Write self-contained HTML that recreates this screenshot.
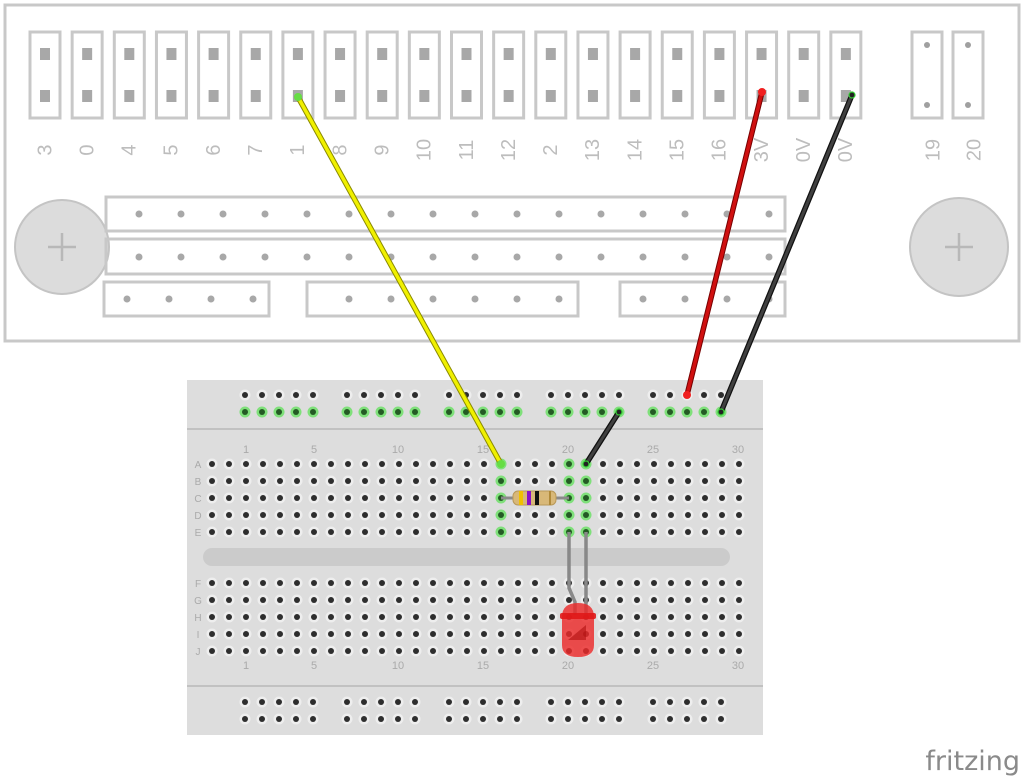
<!DOCTYPE html>
<html><head><meta charset="utf-8"><style>
html,body{margin:0;padding:0;background:#fff;width:1024px;height:780px;overflow:hidden}
svg{display:block}
text{font-family:"Liberation Sans",sans-serif}
</style></head><body>
<svg id="s" width="1024" height="780" viewBox="0 0 1024 780" xmlns="http://www.w3.org/2000/svg">
<rect x="5" y="5" width="1014" height="336" fill="#fff" stroke="#c8c8c8" stroke-width="3"/>
<g id="topg"></g>
<circle cx="62" cy="247" r="47" fill="#dcdcdc" stroke="#c4c4c4" stroke-width="2"/>
<path d="M48 247h28M62 233v28" stroke="#b8b8b8" stroke-width="2.5"/>
<circle cx="959" cy="247" r="49" fill="#dcdcdc" stroke="#c4c4c4" stroke-width="2"/>
<path d="M945 247h28M959 233v28" stroke="#b8b8b8" stroke-width="2.5"/>
<g fill="none" stroke="#c8c8c8" stroke-width="3">
<rect x="106" y="197" width="679" height="34"/>
<rect x="106" y="239" width="679" height="35"/>
<rect x="104" y="282" width="165" height="34"/>
<rect x="307" y="282" width="271" height="34"/>
<rect x="620" y="282" width="165" height="34"/>
<rect x="912" y="32" width="30" height="86"/>
<rect x="953" y="32" width="30" height="86"/>
</g>
<g fill="#a0a0a0"><circle cx="927" cy="45" r="3"/><circle cx="927" cy="105" r="3"/><circle cx="968" cy="45" r="3"/><circle cx="968" cy="105" r="3"/></g>
<g fill="#bdbdbd" font-size="20"><text transform="translate(934,150) rotate(-90)" text-anchor="middle" dominant-baseline="middle">19</text><text transform="translate(975,150) rotate(-90)" text-anchor="middle" dominant-baseline="middle">20</text></g>

<rect x="187" y="380" width="576" height="355" fill="#dddddd"/>
<line x1="187" y1="429" x2="763" y2="429" stroke="#b8b8b8" stroke-width="1.5"/>
<line x1="187" y1="686" x2="763" y2="686" stroke="#b8b8b8" stroke-width="1.5"/>
<rect x="203" y="548" width="527" height="18" rx="9" fill="#cbcbcb"/>
<g id="bb"></g>
<g id="over">
<line x1="501" y1="498" x2="569" y2="498" stroke="#8a8a8a" stroke-width="3"/>
<rect x="513" y="491" width="43" height="14" rx="5" fill="#d8b878" stroke="#b89858" stroke-width="1"/>
<rect x="519" y="491" width="4" height="14" fill="#f0c000"/>
<rect x="527" y="491" width="4" height="14" fill="#8a10c8"/>
<rect x="535" y="491" width="4" height="14" fill="#111"/>
<rect x="549" y="491" width="2" height="14" fill="#b08a3a"/>
<path d="M569 532 V588 L575 602 V615" fill="none" stroke="#888" stroke-width="3.5"/>
<path d="M586 532 V615" fill="none" stroke="#888" stroke-width="3.5"/>
<path d="M562 617 Q562 603 578 603 Q594 603 594 617 V645 Q594 657 578 657 Q562 657 562 645 Z" fill="#ec2a2a" opacity="0.82"/>
<rect x="560" y="613" width="36" height="6" rx="2" fill="#e01818" opacity="0.9"/>
<path d="M568 640 L586 625 V640 Z" fill="#b01010" opacity="0.6"/>
<g stroke-linecap="round">
<line x1="298" y1="97" x2="501" y2="464" stroke="#8a8a00" stroke-width="5.5"/>
<line x1="298" y1="97" x2="501" y2="464" stroke="#f0f000" stroke-width="3.5"/>
<line x1="762" y1="92" x2="687" y2="395" stroke="#700" stroke-width="5.5"/>
<line x1="762" y1="92" x2="687" y2="395" stroke="#d01010" stroke-width="3.5"/>
<line x1="852" y1="95" x2="721" y2="412" stroke="#111" stroke-width="5.5"/>
<line x1="852" y1="95" x2="721" y2="412" stroke="#404040" stroke-width="3"/>
<line x1="619" y1="412" x2="586" y2="464" stroke="#111" stroke-width="5.5"/>
<line x1="619" y1="412" x2="586" y2="464" stroke="#404040" stroke-width="3"/>
</g>
<g fill="#66dd44"><circle cx="298" cy="97" r="4"/><circle cx="501" cy="464" r="4"/></g>
<circle cx="762" cy="92" r="4" fill="#f02020"/><circle cx="687" cy="395" r="4" fill="#f02020"/>
<g fill="#222" stroke="#3c3" stroke-width="1.2"><circle cx="852" cy="95" r="3"/><circle cx="721" cy="412" r="3"/><circle cx="619" cy="412" r="3"/><circle cx="586" cy="464" r="3"/></g>
</g>
<text x="1020" y="770" text-anchor="end" font-size="27" fill="#8a8a8a" style="font-family:'DejaVu Sans',sans-serif">fritzing</text>
</svg>
<script>
(function(){
var NS="http://www.w3.org/2000/svg";
function el(p,t,a,txt){var e=document.createElementNS(NS,t);for(var k in a)e.setAttribute(k,a[k]);if(txt!==undefined)e.textContent=txt;p.appendChild(e);return e;}
var tg=document.getElementById("topg");
var labels=["3","0","4","5","6","7","1","8","9","10","11","12","2","13","14","15","16","3V","0V","0V"];
for(var i=0;i<20;i++){var cx=45+i*42.15;
el(tg,"rect",{x:cx-15,y:32,width:30,height:86,fill:"none",stroke:"#c8c8c8","stroke-width":3});
el(tg,"rect",{x:cx-5,y:48,width:10,height:12,fill:"#a8a8a8"});
el(tg,"rect",{x:cx-5,y:90,width:10,height:12,fill:"#a8a8a8"});
el(tg,"text",{transform:"translate("+(cx+1)+",150) rotate(-90)","text-anchor":"middle","dominant-baseline":"middle","font-size":20,fill:"#bdbdbd"},labels[i]);}
for(var i=0;i<16;i++){var x=139+i*42;el(tg,"circle",{cx:x,cy:214,r:3.5,fill:"#a8a8a8"});el(tg,"circle",{cx:x,cy:257,r:3.5,fill:"#a8a8a8"});}
[127,169,211,253,349,391,433,475,517,559,643,685,727,769].forEach(function(x){el(tg,"circle",{cx:x,cy:299,r:3.5,fill:"#a8a8a8"});});
var bb=document.getElementById("bb");
function hole(x,y,g){el(bb,"circle",{cx:x,cy:y,r:5.5,fill:g?"#7fe07a":"#eeeeee"});el(bb,"circle",{cx:x,cy:y,r:3,fill:g?"#245a24":"#2e2e2e"});}
[245,347,449,551,653].forEach(function(g){for(var k=0;k<5;k++){var x=g+k*17;hole(x,395,false);hole(x,412,true);hole(x,702,false);hole(x,719,false);}});
var rows1=[464,481,498,515,532],rows2=[583,600,617,634,651];
for(var k=0;k<32;k++){var x=212+k*17;var gr=(k==17||k==21||k==22);
rows1.forEach(function(y){hole(x,y,gr);});
rows2.forEach(function(y){hole(x,y,false);});}
for(var i=0;i<5;i++){el(bb,"text",{x:198,y:rows1[i]+4,"text-anchor":"middle","font-size":10,fill:"#aaa"},"ABCDE"[i]);el(bb,"text",{x:198,y:rows2[i]+4,"text-anchor":"middle","font-size":10,fill:"#aaa"},"FGHIJ"[i]);}
[[1,246],[5,314],[10,398],[15,483],[20,568],[25,653],[30,738]].forEach(function(n){el(bb,"text",{x:n[1],y:453,"text-anchor":"middle","font-size":11,fill:"#aaa"},String(n[0]));el(bb,"text",{x:n[1],y:669,"text-anchor":"middle","font-size":11,fill:"#aaa"},String(n[0]));});
})();
</script>
</body></html>
